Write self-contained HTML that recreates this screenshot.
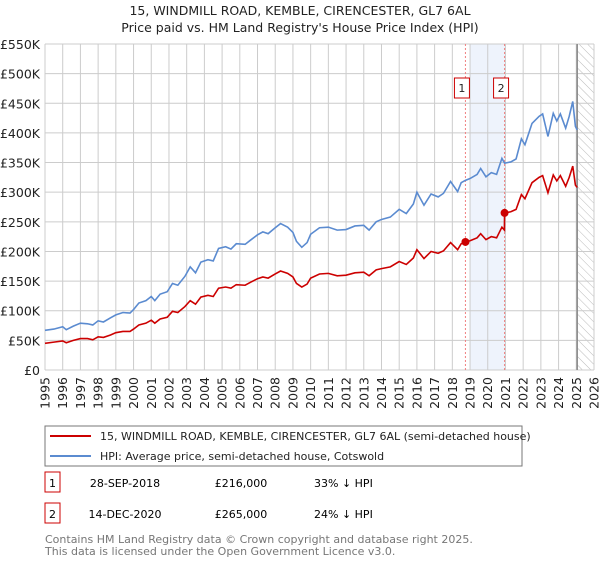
<!DOCTYPE html>
<html><head><meta charset="utf-8"><style>
body{margin:0;background:#fff;font-family:"DejaVu Sans","Liberation Sans",sans-serif;}
svg text{font-family:"DejaVu Sans","Liberation Sans",sans-serif;}
</style></head><body>
<svg id="chart" width="600" height="560" xmlns="http://www.w3.org/2000/svg">
<defs><pattern id="hatch" width="6" height="6" patternUnits="userSpaceOnUse" patternTransform="rotate(-45)"><rect width="6" height="6" fill="#fff"/><line x1="0" y1="0" x2="0" y2="6" stroke="#bbb" stroke-width="1"/></pattern></defs>
<text x="300" y="15" text-anchor="middle" font-size="12.5" fill="#222">15, WINDMILL ROAD, KEMBLE, CIRENCESTER, GL7 6AL</text>
<text x="300" y="32" text-anchor="middle" font-size="12.5" fill="#222">Price paid vs. HM Land Registry's House Price Index (HPI)</text>
<g id="grid"></g><g id="marks"></g>
<rect x="45" y="426" width="477" height="40" fill="#fff" stroke="#777"/>
<line x1="50" y1="436" x2="91" y2="436" stroke="#cc0000" stroke-width="2"/>
<text x="100" y="440" font-size="11" fill="#222">15, WINDMILL ROAD, KEMBLE, CIRENCESTER, GL7 6AL (semi-detached house)</text>
<line x1="50" y1="456" x2="91" y2="456" stroke="#5b8bd0" stroke-width="2"/>
<text x="100" y="460" font-size="11" fill="#222">HPI: Average price, semi-detached house, Cotswold</text>
<g>
<rect x="45" y="472" width="15" height="20" fill="#fff" stroke="#cc0000"/><text x="52.5" y="487" text-anchor="middle" font-size="11">1</text>
<text x="125" y="487" text-anchor="middle" font-size="11">28-SEP-2018</text>
<text x="241" y="487" text-anchor="middle" font-size="11">£216,000</text>
<text x="314" y="487" font-size="11">33% ↓ HPI</text></g>
<g>
<rect x="45" y="503" width="15" height="20" fill="#fff" stroke="#cc0000"/><text x="52.5" y="518" text-anchor="middle" font-size="11">2</text>
<text x="125" y="518" text-anchor="middle" font-size="11">14-DEC-2020</text>
<text x="241" y="518" text-anchor="middle" font-size="11">£265,000</text>
<text x="314" y="518" font-size="11">24% ↓ HPI</text></g>
<text x="45" y="543" font-size="11" fill="#777">Contains HM Land Registry data © Crown copyright and database right 2025.</text>
<text x="45" y="555" font-size="11" fill="#777">This data is licensed under the Open Government Licence v3.0.</text>
</svg>
<script>
const yTicks=[0,50000,100000,150000,200000,250000,300000,350000,400000,450000,500000,550000];
const yTickLabels=["£0","£50K","£100K","£150K","£200K","£250K","£300K","£350K","£400K","£450K","£500K","£550K"];
const xTicks=[1995,1996,1997,1998,1999,2000,2001,2002,2003,2004,2005,2006,2007,2008,2009,2010,2011,2012,2013,2014,2015,2016,2017,2018,2019,2020,2021,2022,2023,2024,2025,2026];
const hpiYears=[1995.0,1995.5,1996.0,1996.2,1996.6,1997.0,1997.4,1997.7,1998.0,1998.3,1998.7,1999.0,1999.4,1999.8,2000.0,2000.3,2000.7,2001.0,2001.2,2001.5,2001.9,2002.2,2002.5,2002.9,2003.2,2003.5,2003.8,2004.2,2004.5,2004.8,2005.2,2005.5,2005.8,2006.3,2006.6,2007.0,2007.3,2007.6,2008.0,2008.3,2008.7,2009.0,2009.2,2009.5,2009.8,2010.0,2010.5,2011.0,2011.5,2012.0,2012.5,2013.0,2013.3,2013.7,2014.0,2014.5,2015.0,2015.4,2015.8,2016.0,2016.4,2016.8,2017.2,2017.5,2017.9,2018.3,2018.5,2018.74,2019.0,2019.4,2019.6,2019.9,2020.2,2020.5,2020.8,2020.95,2021.3,2021.6,2021.9,2022.1,2022.5,2022.9,2023.1,2023.4,2023.7,2023.9,2024.1,2024.4,2024.6,2024.8,2024.95,2025.05];
const hpiValues=[67,69,73,68,74,79,78,76,83,81,88,93,97,96,102,113,117,124,117,128,132,146,143,158,174,164,182,186,184,205,208,204,213,212,219,228,233,230,240,247,241,232,217,207,215,229,240,241,236,237,243,244,236,250,254,258,271,264,280,300,278,297,292,298,318,301,316,320,323,330,340,326,333,330,357,349,351,356,390,380,416,428,432,394,433,420,432,408,428,453,411,405];
const priceYears=[1995.0,1995.5,1996.0,1996.2,1996.6,1997.0,1997.4,1997.7,1998.0,1998.3,1998.7,1999.0,1999.4,1999.8,2000.0,2000.3,2000.7,2001.0,2001.2,2001.5,2001.9,2002.2,2002.5,2002.9,2003.2,2003.5,2003.8,2004.2,2004.5,2004.8,2005.2,2005.5,2005.8,2006.3,2006.6,2007.0,2007.3,2007.6,2008.0,2008.3,2008.7,2009.0,2009.2,2009.5,2009.8,2010.0,2010.5,2011.0,2011.5,2012.0,2012.5,2013.0,2013.3,2013.7,2014.0,2014.5,2015.0,2015.4,2015.8,2016.0,2016.4,2016.8,2017.2,2017.5,2017.9,2018.3,2018.5,2018.74,2019.0,2019.4,2019.6,2019.9,2020.2,2020.5,2020.8,2020.94,2020.95,2021.3,2021.6,2021.9,2022.1,2022.5,2022.9,2023.1,2023.4,2023.7,2023.9,2024.1,2024.4,2024.6,2024.8,2024.95,2025.05];
const priceValues=[45,47,49,46,50,53,53,51,56,55,59,63,65,65,69,76,79,84,79,86,89,99,97,107,117,111,123,126,124,138,140,138,144,143,148,154,157,155,162,167,163,157,146,140,145,155,162,163,159,160,164,165,159,169,171,174,183,178,189,203,188,200,197,201,215,203,213,216,218,223,230,220,225,223,241,236,265,267,271,296,289,316,325,328,299,329,319,328,310,325,344,312,308];
const saleYears=[2018.74,2020.95];
const saleValues=[216000,265000];
const saleLabels=["1","2"];
const NS="http://www.w3.org/2000/svg";
const X=y=>45+(y-1995)*(549/31);
const Y=v=>370-v/550000*326;
function mk(tag,attrs,parent){const e=document.createElementNS(NS,tag);for(const k in attrs)e.setAttribute(k,attrs[k]);parent.appendChild(e);return e;}
const grid=document.getElementById('grid'),marks=document.getElementById('marks');
mk('rect',{x:X(2019),y:44,width:X(2021)-X(2019),height:326,fill:'#eef3fc'},grid);
mk('rect',{x:X(2025.05),y:44,width:X(2026)-X(2025.05),height:326,fill:'url(#hatch)'},grid);
yTicks.forEach((v,i)=>{
 const l=mk('line',{x1:45,x2:X(2026),y1:Y(v),y2:Y(v),stroke:'#ccc'},grid);
 
 
 const t=mk('text',{x:40,y:Y(v)+5,'text-anchor':'end','font-size':'12.5',fill:'#222'},grid);t.textContent=yTickLabels[i];
 
 
});
xTicks.forEach(yr=>{
 const l=mk('line',{x1:X(yr),x2:X(yr),y1:44,y2:370,stroke:'#ccc'},grid);
 
 
 const t=mk('text',{x:0,y:0,'text-anchor':'end','font-size':'12.5',fill:'#222',transform:`translate(${X(yr)+4.5},377) rotate(-90)`},grid);t.textContent=yr;
 
 
});
const ln=mk('line',{x1:X(2025.05),x2:X(2025.05),y1:44,y2:370,stroke:'#888','stroke-width':1.5},grid);


saleYears.forEach((yr,i)=>{
 const d=mk('line',{x1:X(yr),x2:X(yr),y1:44,y2:370,stroke:'#f08080','stroke-dasharray':'2,2'},marks);
 
 
 mk('rect',{x:X(yr)-11,y:78,width:15,height:20,fill:'#fff',stroke:'#cc0000'},marks);
 const t=mk('text',{x:X(yr)-3.5,y:92,'text-anchor':'middle','font-size':'11',fill:'#222'},marks);t.textContent=saleLabels[i];
 
 
});
const hp=mk('polyline',{points:hpiYears.map((y,i)=>X(y)+','+Y(hpiValues[i]*1000)).join(' '),fill:'none',stroke:'#5b8bd0','stroke-width':1.6},marks);


const pp=mk('polyline',{points:priceYears.map((y,i)=>X(y)+','+Y(priceValues[i]*1000)).join(' '),fill:'none',stroke:'#cc0000','stroke-width':1.6},marks);


saleYears.forEach((yr,i)=>{
 const c=mk('circle',{cx:X(yr),cy:Y(saleValues[i]),r:4,fill:'#cc0000'},marks);
 
 
});
</script>
</body></html>
